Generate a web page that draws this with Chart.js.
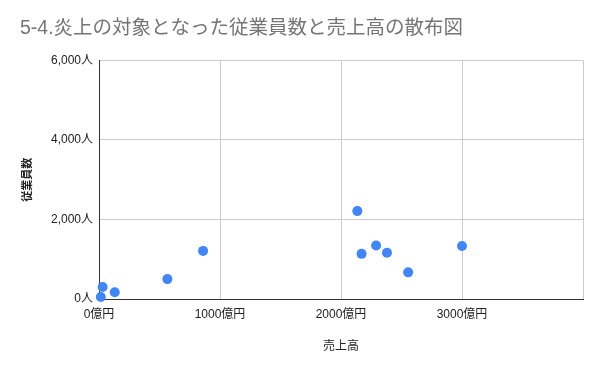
<!DOCTYPE html>
<html>
<head>
<meta charset="utf-8">
<script src="https://cdn.jsdelivr.net/npm/chart.js@4/dist/chart.umd.min.js"></script>
<style>
  html, body { margin: 0; padding: 0; background: #fff; }
  #wrap { width: 600px; height: 371px; }
</style>
</head>
<body>
<div id="wrap"><canvas id="myChart" width="600" height="371"></canvas></div>
<script>
// 売上高 (億円) と 従業員数 (人)
const sales = [15, 30, 130, 565, 860, 2135, 2170, 2290, 2380, 2555, 3000];
const employees = [50, 300, 170, 500, 1210, 2210, 1135, 1345, 1165, 670, 1335];
const xTicks = [0, 1000, 2000, 3000, 4000];
const yTicks = [0, 2000, 4000, 6000];

const FONT = '"Liberation Sans", Arial, "Noto Sans CJK JP", sans-serif';

function createChart() {
    const ctx = document.getElementById('myChart').getContext('2d');
    const points = sales.map((s, i) => ({ x: s, y: employees[i] }));

    return new Chart(ctx, {
        type: 'scatter',
        data: {
            datasets: [{
                label: '従業員数',
                data: points,
                backgroundColor: '#4285f4',
                borderColor: '#4285f4',
                borderWidth: 0,
                pointRadius: 5,
                pointHoverRadius: 5,
                clip: false,
            }],
        },
        options: {
            responsive: false,
            animation: false,
            layout: { padding: { left: 20, right: 17, top: 0, bottom: 0 } },
            plugins: {
                legend: { display: false },
                tooltip: { enabled: false },
                title: {
                    display: true,
                    text: '5-4.炎上の対象となった従業員数と売上高の散布図',
                    align: 'start',
                    color: '#757575',
                    font: { family: FONT, size: 19.5, weight: 'normal' },
                    padding: { top: 17, bottom: 20 },
                },
            },
            scales: {
                x: {
                    type: 'linear',
                    min: 0,
                    max: 4000,
                    afterBuildTicks: (scale) => { scale.ticks = xTicks.map(v => ({ value: v })); },
                    afterFit: (scale) => { scale.height = 72; },
                    ticks: {
                        color: '#222',
                        padding: 8,
                        maxRotation: 0,
                        font: { family: FONT, size: 12 },
                        callback: (v) => v >= 4000 ? '' : v + '億円',
                    },
                    grid: { color: '#cccccc', drawTicks: false },
                    border: { color: '#333333', width: 1 },
                    title: {
                        display: true,
                        text: '売上高',
                        color: '#222',
                        font: { family: FONT, size: 12 },
                        padding: { top: 0, bottom: 17 },
                    },
                },
                y: {
                    type: 'linear',
                    min: 0,
                    max: 6000,
                    afterBuildTicks: (scale) => { scale.ticks = yTicks.map(v => ({ value: v })); },
                    afterFit: (scale) => { scale.width = 79; },
                    ticks: {
                        color: '#222',
                        padding: 6,
                        font: { family: FONT, size: 12 },
                        callback: (v) => v.toLocaleString('en-US') + '人',
                    },
                    grid: { color: '#cccccc', drawTicks: false },
                    border: { color: '#333333', width: 1 },
                    title: {
                        display: true,
                        text: '従業員数',
                        color: '#222',
                        font: { family: FONT, size: 11, weight: 'bold' },
                        padding: { top: 1, bottom: 0 },
                    },
                },
            },
        },
    });
}

createChart();
</script>
</body>
</html>
